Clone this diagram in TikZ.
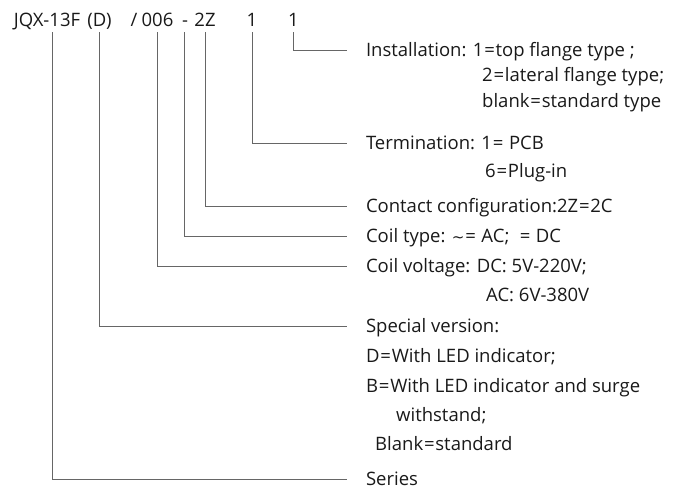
\documentclass[tikz,border=0pt]{standalone}
\usepackage{fontspec}
\setmainfont{Open Sans}
\newfontfamily\symfont{DejaVu Sans}
\newcommand{\eqq}{\kern0.8pt=\kern0.8pt}
\begin{document}
\begin{tikzpicture}[x=1pt,y=-1pt,
  every node/.style={font=\fontsize{18.5}{20}\selectfont, text=black!90, inner sep=0pt},
  code/.style={anchor=base, text height=13pt, text depth=6pt},
  lab/.style={anchor=west, text height=13pt, text depth=0pt, outer xsep=19pt},
  more/.style={anchor=west, text height=13pt, text depth=0pt},
  conn/.style={draw=black!60, line width=0.8pt}]
\useasboundingbox (0,0) rectangle (680,490);
% code line
\node[code] (c-ser) at (47,26) {JQX-13F};
\node[code] (c-spec) at (99.5,26) {(D)};
\node[code] (c-sl) at (134,26) {/};
\node[code] (c-volt) at (157.5,26) {006};
\node[code] (c-dash) at (185,26) {-};
\node[code] (c-cont) at (205,26) {2Z};
\node[code] (c-term) at (252,26) {1};
\node[code] (c-inst) at (293.5,26) {1};
% labels
\node[lab] (l-inst) at (347,50) {Installation: 1\eqq top flange type ;};
\node[more] (l-inst2) at (482,75) {2\eqq lateral flange type;};
\node[more] (l-inst3) at (482,101) {blank\eqq standard type};
\node[lab] (l-term) at (347,143) {Termination: 1\eqq\ PCB};
\node[more] (l-term2) at (485,171) {6\eqq Plug-in};
\node[lab] (l-cont) at (347,206) {Contact configuration:2Z\eqq 2C};
\node[lab] (l-coil) at (347,236) {Coil type: {\symfont\fontsize{15}{17}\selectfont ∼}\eqq\ AC;~~\eqq\ DC};
\node[lab] (l-volt) at (347,266) {Coil voltage: DC: 5V-220V;};
\node[more] (l-volt2) at (486,295) {AC: 6V-380V};
\node[lab] (l-spec) at (347,326) {Special version:};
\node[more] (l-spec2) at (366,356) {D\eqq With LED indicator;};
\node[more] (l-spec3) at (366,386) {B\eqq With LED indicator and surge};
\node[more] (l-spec4) at (396,415) {withstand;};
\node[more] (l-spec5) at (375,444) {Blank\eqq standard};
\node[lab] (l-ser) at (347,479) {Series};
% connectors
\draw[conn] (c-inst.south) |- (l-inst.west);
\draw[conn] (c-term.south) |- (l-term.west);
\draw[conn] (c-cont.south) |- (l-cont.west);
\draw[conn] ([xshift=-1pt]c-dash.south) |- (l-coil.west);
\draw[conn] ([xshift=-0.5pt]c-volt.south) |- (l-volt.west);
\draw[conn] ([xshift=-0.5pt]c-spec.south) |- (l-spec.west);
\draw[conn] ([xshift=5pt]c-ser.south) |- (l-ser.west);
\end{tikzpicture}
\end{document}
